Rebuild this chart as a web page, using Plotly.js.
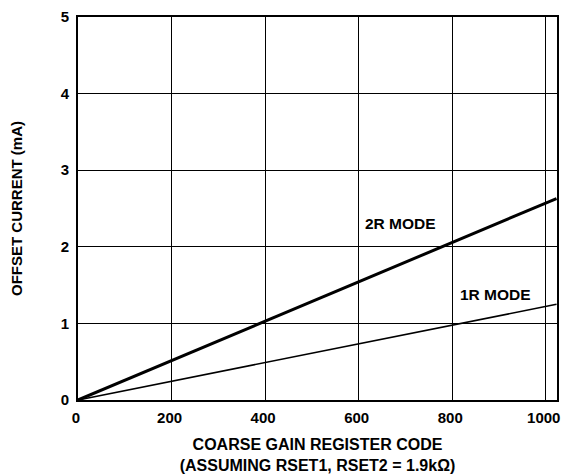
<!DOCTYPE html>
<html>
<head>
<meta charset="utf-8">
<script src="https://cdn.plot.ly/plotly-3.0.1.min.js"></script>
<style>html,body{margin:0;padding:0;background:#fff;}#chart{width:561px;height:474px;}</style>
</head>
<body>
<div id="chart"></div>
<script>
// Data
const codes = [0, 1023];
const current1R = [0, 1.25];
const current2R = [0, 2.63];
const xTickVals = [0, 200, 400, 600, 800, 1000];
const yTickVals = [0, 1, 2, 3, 4, 5];
const labels = [
  {text: '2R MODE', x: 690, y: 2.31},
  {text: '1R MODE', x: 892, y: 1.38}
];

const fontFamily = '"Liberation Sans", Arial, sans-serif';
const mkFont = s => ({family: fontFamily, size: s, color: '#000', weight: 700});

const traces = [
  {x: codes, y: current2R, mode: 'lines', line: {color: '#000', width: 3}, hoverinfo: 'skip'},
  {x: codes, y: current1R, mode: 'lines', line: {color: '#000', width: 1.6}, hoverinfo: 'skip'}
];

const layout = {
  width: 561, height: 474,
  margin: {l: 77.5, r: 3.7, t: 16.5, b: 74},
  paper_bgcolor: '#fff', plot_bgcolor: '#fff',
  showlegend: false,
  font: mkFont(15),
  xaxis: {
    range: [0, 1024], tickvals: xTickVals, ticktext: xTickVals.map(String),
    showgrid: true, gridcolor: '#000', gridwidth: 1.2,
    showline: true, linecolor: '#000', linewidth: 2, mirror: true,
    zeroline: false, ticks: '', ticklen: 0, ticklabeloverflow: 'allow',
    ticklabelshift: -2, ticklabelstandoff: 3,
    tickfont: mkFont(15),
    title: {text: 'COARSE GAIN REGISTER CODE<br>(ASSUMING RSET1, RSET2 = 1.9kΩ)', font: mkFont(16), standoff: 25}
  },
  yaxis: {
    range: [0, 5], tickvals: yTickVals, ticktext: yTickVals.map(String),
    showgrid: true, gridcolor: '#000', gridwidth: 1.2,
    showline: true, linecolor: '#000', linewidth: 2, mirror: true,
    zeroline: false, ticks: '', ticklen: 0, ticklabeloverflow: 'allow',
    ticklabelstandoff: 4,
    tickfont: mkFont(15),
    title: {text: 'OFFSET CURRENT (mA)', font: mkFont(15), standoff: 34}
  },
  annotations: labels.map(l => ({
    text: l.text, x: l.x, y: l.y, xref: 'x', yref: 'y',
    showarrow: false, font: mkFont(15.5), bgcolor: 'rgba(0,0,0,0)'
  }))
};

Plotly.newPlot('chart', traces, layout, {staticPlot: true, displayModeBar: false});
</script>
</body>
</html>
